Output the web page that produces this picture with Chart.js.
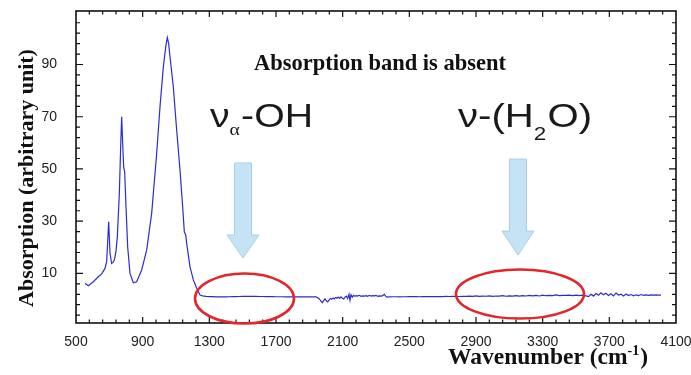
<!DOCTYPE html>
<html>
<head>
<meta charset="utf-8">
<script src="https://cdn.jsdelivr.net/npm/chart.js@4/dist/chart.umd.min.js"></script>
<style>
html,body{margin:0;padding:0;background:#fff;}
#wrap{width:691px;height:375px;position:relative;}
</style>
</head>
<body>
<div id="wrap"><canvas id="c"></canvas></div>
<script>
// ---- data ----
const wavenumber = [
 554,574,604,634,654,674,684,690,696,700,704,714,722,730,740,748,760,768,774,780,786,792,800,810,824,844,864,894,924,954,984,1004,1024,1040,1048,1056,1064,1084,1104,1124,1140,1150,1158,1164,1184,1204,1224,1244,
 1260,1280,1300,1320,1340,1360,1380,1400,1420,1440,1460,1480,1500,1520,1540,1560,1580,1600,1620,1640,1660,1680,1700,1720,1740,1760,1780,1800,1820,1840,1860,1880,1900,1920,1940,
 1950,1960,1970,1978,1986,1994,2002,2010,2018,2026,2034,2042,2050,2058,2066,2074,2082,2090,2098,2106,2114,2122,2130,2138,2144,2150,2158,2166,2174,2182,2190,2200,2210,2220,2230,2240,2250,2260,2270,2280,2290,2300,2310,2320,2330,2340,2350,2358,2366,2380,
 2400,2420,2440,2460,2480,2500,2520,2540,2560,2580,2600,2620,2640,2660,2680,2700,2720,2740,2760,2780,2800,2820,2840,2860,2880,2900,2920,2940,2960,2980,3000,3020,3040,3060,3080,3100,3120,3140,3160,3180,3200,3220,3240,3260,3280,3300,3320,3340,3360,3380,3400,3420,3440,3460,3480,3500,3520,3540,3560,
 3575,3590,3605,3620,3635,3650,3665,3680,3695,3710,3725,3740,3755,3770,3785,3800,3815,3830,3845,3860,3875,3890,3905,3920,3935,3950,3965,3980,3995,4010
];
const absorption = [
 6.2,5.3,6.8,8.7,9.8,11.9,14.5,22.0,29.8,24.0,17.7,13.8,14.2,15.1,18.5,24.0,40.6,58.5,70.0,59.8,50.8,48.9,35.5,20.2,10.0,6.4,6.8,11.3,18.9,33.0,55.9,73.8,89.1,97.5,100.3,98.0,93.0,81.4,64.9,49.6,35.5,25.8,24.8,21.5,12.5,7.5,4.3,1.7,
 1.4,1.2,1.1,1.1,1.0,1.0,1.0,1.0,1.05,1.1,1.1,1.15,1.2,1.2,1.25,1.2,1.2,1.15,1.15,1.1,1.1,1.1,1.05,1.05,1.05,1.0,1.0,1.0,1.05,1.0,1.0,1.0,1.05,1.0,1.0,
 0.7,0.2,-0.6,-1.2,-0.4,0.3,-0.5,-0.9,-0.2,0.4,0.1,0.6,0.2,0.8,0.5,0.9,0.4,1.0,0.5,0.2,0.9,1.3,0.4,2.0,-0.3,1.8,0.9,1.6,1.2,1.5,1.3,1.6,1.2,1.4,1.3,1.5,1.2,1.6,1.3,1.5,1.4,1.6,1.2,1.4,1.3,1.5,2.0,1.3,0.9,1.0,
 1.05,1.05,1.0,1.05,1.05,1.1,1.1,1.1,1.05,1.1,1.1,1.15,1.1,1.1,1.15,1.1,1.2,1.15,1.2,1.2,1.15,1.25,1.2,1.3,1.2,1.35,1.2,1.3,1.25,1.4,1.2,1.35,1.3,1.45,1.25,1.4,1.3,1.5,1.3,1.45,1.35,1.6,1.4,1.55,1.35,1.7,1.45,1.6,1.5,1.75,1.5,1.6,1.55,1.7,1.5,1.65,1.5,1.7,1.4,
 1.1,2.0,1.3,2.3,1.6,2.6,1.8,2.4,1.5,2.2,1.4,2.5,1.7,2.0,1.3,2.1,1.5,1.9,1.4,1.8,1.5,1.9,1.6,1.8,1.6,1.8,1.65,1.75,1.7,1.7
];
const xTickLabels = [500,900,1300,1700,2100,2500,2900,3300,3700,4100];
const yTickLabels = [10,30,50,70,90];

const chartTitle = 'Absorption band is absent';
const yTitle = 'Absorption (arbitrary unit)';
const xTitle = 'Wavenumber (cm';
const xTitleSup = '-1';

// annotations (data coordinates)
const bandLabels = [
  {wn:1304, v:66.1, parts:[['ν',0],['α',1],['-OH',0]], width:103},
  {wn:2792, v:66.1, parts:[['ν-(H',0],['2',2],['O)',0]], width:134}
];
const arrows = [
  {wn:1502, top:52.3, head:24.7, tip:15.9},
  {wn:3152, top:53.8, head:26.2, tip:17.0}
];
const ellipses = [
  {wn:1511, v:0.38, dwn:297, dv:9.6},
  {wn:3164, v:2.1, dwn:384, dv:9.4}
];

const points = wavenumber.map((w,i)=>({x:w,y:absorption[i]}));

function zeroPad(s){ s.paddingLeft = 0; s.paddingRight = 0; s.paddingTop = 0; s.paddingBottom = 0; }

const decor = {
  id:'decor',
  afterDatasetsDraw(chart){
    const ctx = chart.ctx, a = chart.chartArea;
    const xs = chart.scales.x, ys = chart.scales.y;
    ctx.save();
    // frame
    ctx.strokeStyle = '#111'; ctx.lineWidth = 1.6;
    ctx.strokeRect(a.left, a.top, a.right-a.left, a.bottom-a.top);
    // x ticks (inward, bottom & top)
    ctx.lineWidth = 1.2;
    for(let v=580; v<4100; v+=80){
      const px = xs.getPixelForValue(v);
      const major = (v-500)%400===0;
      const L = major?6:3.5;
      ctx.beginPath();
      ctx.moveTo(px,a.bottom); ctx.lineTo(px,a.bottom-L);
      ctx.moveTo(px,a.top); ctx.lineTo(px,a.top+L);
      ctx.stroke();
    }
    for(let v=-6; v<110; v+=4){
      const py = ys.getPixelForValue(v);
      const major = yTickLabels.includes(v);
      const L = major?7:4;
      ctx.beginPath();
      ctx.moveTo(a.left,py); ctx.lineTo(a.left+L,py);
      ctx.moveTo(a.right,py); ctx.lineTo(a.right-L,py);
      ctx.stroke();
    }
    // ellipses
    ctx.strokeStyle = '#e3262c'; ctx.lineWidth = 2.6;
    ellipses.forEach(e=>{
      const cx = xs.getPixelForValue(e.wn), cy = ys.getPixelForValue(e.v);
      const rx = Math.abs(xs.getPixelForValue(e.wn+e.dwn)-cx);
      const ry = Math.abs(ys.getPixelForValue(e.v+e.dv)-cy);
      ctx.beginPath(); ctx.ellipse(cx,cy,rx,ry,0,0,Math.PI*2); ctx.stroke();
    });
    // arrows
    arrows.forEach(r=>{
      const cx = xs.getPixelForValue(r.wn);
      const t = ys.getPixelForValue(r.top), h = ys.getPixelForValue(r.head), p = ys.getPixelForValue(r.tip);
      ctx.beginPath();
      ctx.moveTo(cx-8.5,t); ctx.lineTo(cx+8.5,t); ctx.lineTo(cx+8.5,h); ctx.lineTo(cx+16,h);
      ctx.lineTo(cx,p); ctx.lineTo(cx-16,h); ctx.lineTo(cx-8.5,h); ctx.closePath();
      ctx.fillStyle = '#c6e3f5'; ctx.fill();
      ctx.strokeStyle = '#a8cfe8'; ctx.lineWidth = 1; ctx.stroke();
    });
    // title
    ctx.fillStyle = '#111';
    ctx.font = 'bold 22.5px "Liberation Serif"';
    ctx.textAlign = 'center'; ctx.textBaseline = 'alphabetic';
    ctx.fillText(chartTitle, xs.getPixelForValue(2324), ys.getPixelForValue(87.9));
    // band labels
    ctx.textAlign = 'left';
    bandLabels.forEach(b=>{
      const x0 = xs.getPixelForValue(b.wn), y0 = ys.getPixelForValue(b.v);
      const fonts = ['34px "Liberation Sans"','17px "Liberation Serif"','19px "Liberation Sans"'];
      const drops = [0,8,13];
      let w = 0;
      b.parts.forEach(([s,k])=>{ctx.font=fonts[k]; w+=ctx.measureText(s).width + (k?1:0);});
      const sx = b.width/w;
      ctx.save(); ctx.translate(x0,y0); ctx.scale(sx,1);
      let x = 0;
      ctx.fillStyle = '#1a1a1a';
      b.parts.forEach(([s,k])=>{ctx.font=fonts[k]; ctx.fillText(s,x,drops[k]); x+=ctx.measureText(s).width + (k?1:0);});
      ctx.restore();
    });
    // y axis title
    ctx.fillStyle = '#111';
    ctx.font = 'bold 22px "Liberation Serif"';
    ctx.save();
    ctx.translate(a.left-49, (a.top+a.bottom)/2+11);
    ctx.rotate(-Math.PI/2);
    ctx.textAlign='center'; ctx.textBaseline='middle';
    ctx.fillText(yTitle,0,0);
    ctx.restore();
    // x axis title with superscript
    ctx.textAlign='left'; ctx.textBaseline='alphabetic';
    const f1 = 'bold 23.5px "Liberation Serif"', f2 = 'bold 14px "Liberation Serif"';
    ctx.font=f1; const w1 = ctx.measureText(xTitle).width, w3 = ctx.measureText(')').width;
    ctx.font=f2; const w2 = ctx.measureText(xTitleSup).width;
    const right = a.right-28, base = a.bottom+41;
    let x = right-(w1+w2+w3+1);
    ctx.font=f1; ctx.fillText(xTitle,x,base); x+=w1;
    ctx.font=f2; ctx.fillText(xTitleSup,x,base-9); x+=w2+1;
    ctx.font=f1; ctx.fillText(')',x,base);
    ctx.restore();
  }
};

new Chart(document.getElementById('c'), {
  type:'line',
  data:{datasets:[{
    data:points, borderColor:'#2b2bd8', borderWidth:1.2, pointRadius:0, tension:0, fill:false
  }]},
  options:{
    responsive:true, maintainAspectRatio:false, animation:false,
    layout:{padding:{left:0,right:15,top:11,bottom:0}},
    plugins:{legend:{display:false}, tooltip:{enabled:false}},
    scales:{
      x:{type:'linear', min:500, max:4100,
        afterBuildTicks:s=>{s.ticks = xTickLabels.map(v=>({value:v}));},
        afterFit:s=>{s.height = 52; zeroPad(s);},
        grid:{display:false, drawTicks:false},
        border:{display:false},
        ticks:{padding:11, maxRotation:0, autoSkip:false, color:'#222', font:{family:'Liberation Sans', size:14},
          callback:v=>String(v)}
      },
      y:{type:'linear', min:-9, max:110.5,
        afterBuildTicks:s=>{s.ticks = yTickLabels.map(v=>({value:v}));},
        afterFit:s=>{s.width = 76; zeroPad(s);},
        grid:{display:false, drawTicks:false},
        border:{display:false},
        ticks:{padding:19, autoSkip:false, color:'#222', font:{family:'Liberation Sans', size:14},
          callback:v=>String(v)}
      }
    }
  },
  plugins:[decor]
});
</script>
</body>
</html>
